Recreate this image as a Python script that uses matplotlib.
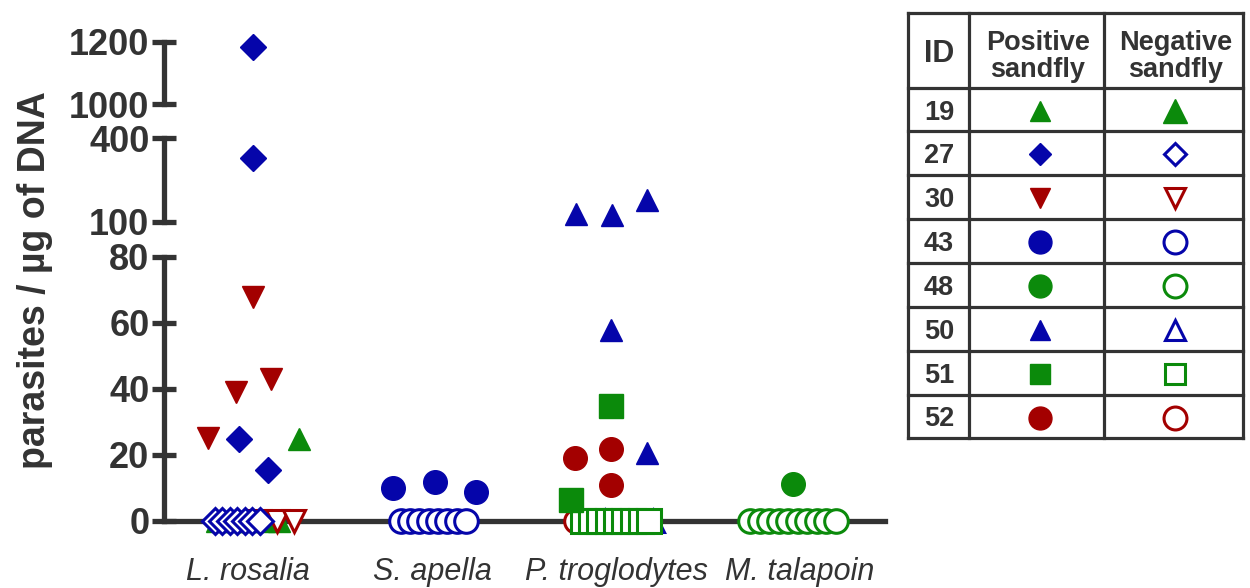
import matplotlib
matplotlib.use('Agg')
import matplotlib.pyplot as plt
import numpy as np

plt.rcParams['font.family'] = ['Liberation Sans', 'DejaVu Sans']

# ---------------- data ----------------
categories = ['L. rosalia', 'S. apella', 'P. troglodytes', 'M. talapoin']
ids = ['19', '27', '30', '43', '48', '50', '51', '52']

# Positive-sandfly results (category index, parasites / ug DNA)
pos19_cat = [0];              pos19_val = [24.7]
pos27_cat = [0, 0, 0, 0];     pos27_val = [1184, 330, 24.7, 15.5]
pos30_cat = [0, 0, 0, 0];     pos30_val = [67.9, 39.1, 42.9, 25.2]
pos43_cat = [1, 1, 1];        pos43_val = [9.9, 11.7, 8.7]
pos48_cat = [3];              pos48_val = [11.0]
pos50_cat = [2, 2, 2, 2, 2];  pos50_val = [128.6, 125.0, 178.6, 57.8, 20.6]
pos51_cat = [2, 2];           pos51_val = [34.8, 6.3]
pos52_cat = [2, 2, 2];        pos52_val = [19.0, 21.7, 10.8]

# Negative-sandfly results: number of zero values per category
neg19_zero = [5, 0, 0, 0]
neg27_zero = [7, 0, 0, 0]
neg30_zero = [3, 0, 0, 0]
neg43_zero = [0, 8, 0, 0]
neg48_zero = [0, 0, 0, 10]
neg50_zero = [0, 0, 2, 0]
neg51_zero = [0, 0, 9, 0]
neg52_zero = [0, 0, 3, 0]

# y-axis segments (broken axis) and their ticks
seg_low = (0, 80);      ticks_low = [0, 20, 40, 60, 80]
seg_mid = (100, 400);   ticks_mid = [100, 400]
seg_top = (1000, 1200); ticks_top = [1000, 1200]

# ---------------- layout / style (not data) ----------------
BLUE = '#0505aa'
GREEN = '#0b8a0b'
RED = '#a30000'
DARK = '#333333'

pos_jitter = {
    '19': [0.277],
    '27': [0.027, 0.027, -0.049, 0.109],
    '30': [0.027, -0.065, 0.125, -0.217],
    '43': [-0.212, 0.016, 0.239],
    '48': [-0.038],
    '50': [-0.217, -0.022, 0.168, -0.027, 0.168],
    '51': [-0.027, -0.245],
    '52': [-0.222, -0.027, -0.027],
}
zero_spread = {
    '19': (-0.17, 0.17), '27': (-0.18, 0.065), '30': (0.06, 0.25),
    '43': (-0.17, 0.185), '48': (-0.272, 0.196), '50': (-0.06, 0.2),
    '51': (-0.18, 0.18), '52': (-0.217, -0.13),
}
style = {
    '19': dict(marker='^', color=GREEN, ms=16.5, ms_leg=14.5, neg_filled=True),
    '27': dict(marker='D', color=BLUE, ms=13.0, ms_leg=11.5, neg_filled=False),
    '30': dict(marker='v', color=RED, ms=16.5, ms_leg=14.5, neg_filled=False),
    '43': dict(marker='o', color=BLUE, ms=17, ms_leg=16.5, neg_filled=False),
    '48': dict(marker='o', color=GREEN, ms=17, ms_leg=16.5, neg_filled=False),
    '50': dict(marker='^', color=BLUE, ms=16.5, ms_leg=14.5, neg_filled=False),
    '51': dict(marker='s', color=GREEN, ms=17, ms_leg=15, neg_filled=False),
    '52': dict(marker='o', color=RED, ms=17, ms_leg=16.5, neg_filled=False),
}
pos_data = {
    '19': (pos19_cat, pos19_val), '27': (pos27_cat, pos27_val),
    '30': (pos30_cat, pos30_val), '43': (pos43_cat, pos43_val),
    '48': (pos48_cat, pos48_val), '50': (pos50_cat, pos50_val),
    '51': (pos51_cat, pos51_val), '52': (pos52_cat, pos52_val),
}
neg_data = {
    '19': neg19_zero, '27': neg27_zero, '30': neg30_zero, '43': neg43_zero,
    '48': neg48_zero, '50': neg50_zero, '51': neg51_zero, '52': neg52_zero,
}

W, H = 1250, 588
fig = plt.figure(figsize=(W / 100, H / 100), dpi=100)
fig.patch.set_facecolor('white')

x_left_px, x_right_px = 164, 885
cat0_px, cat_step_px = 248, 184
xlim = (-(cat0_px - x_left_px) / cat_step_px,
        3 + (x_right_px - (cat0_px + 3 * cat_step_px)) / cat_step_px)


def add_ax(y_bottom_px, y_top_px):
    return fig.add_axes([x_left_px / W, 1 - y_bottom_px / H,
                         (x_right_px - x_left_px) / W, (y_bottom_px - y_top_px) / H])


ax_low = add_ax(520.7, 256.7)
ax_mid = add_ax(221.7, 138.3)
ax_top = add_ax(104.0, 41.7)
segments = [(ax_low, seg_low, ticks_low, (-50, 90)),
            (ax_mid, seg_mid, ticks_mid, (90, 500)),
            (ax_top, seg_top, ticks_top, (500, 5000))]

LW = 3.8
for ax, lims, ticks, _ in segments:
    ax.set_xlim(*xlim)
    ax.set_ylim(*lims)
    ax.patch.set_alpha(0)
    for s in ['top', 'right', 'bottom']:
        ax.spines[s].set_visible(False)
    ax.spines['left'].set_linewidth(LW)
    ax.spines['left'].set_color(DARK)
    ax.set_yticks(ticks)
    ax.set_yticklabels([str(t) for t in ticks])
    ax.tick_params(axis='y', direction='inout', length=17, width=LW,
                   color=DARK, labelcolor=DARK, labelsize=26, pad=2)
    for lb in ax.get_yticklabels():
        lb.set_fontweight('bold')
    ax.set_xticks([])

ax_low.spines['bottom'].set_visible(True)
ax_low.spines['bottom'].set_linewidth(LW)
ax_low.spines['bottom'].set_color(DARK)
ax_low.set_xticks(range(len(categories)))
ax_low.set_xticklabels(categories, fontstyle='italic', fontsize=22, color=DARK)
ax_low.tick_params(axis='x', length=0, pad=26)


def draw(xs, ys, st, filled, z):
    xs = np.asarray(xs, float)
    ys = np.asarray(ys, float)
    for ax, _, _, (lo, hi) in segments:
        m = (ys >= lo) & (ys < hi)
        if not m.any():
            continue
        ax.plot(xs[m], ys[m], linestyle='none', marker=st['marker'],
                markersize=st['ms'],
                markerfacecolor=st['color'] if filled else 'white',
                markeredgecolor=st['color'],
                markeredgewidth=1 if filled else 2.2,
                clip_on=False, zorder=z)


# zero (negative sandfly) values, drawn in layered order
neg_order = ['19', '30', '27', '43', '52', '50', '51', '48']
for k, key in enumerate(neg_order):
    counts = neg_data[key]
    lo, hi = zero_spread[key]
    xs, ys = [], []
    for ci, n in enumerate(counts):
        if n <= 0:
            continue
        offs = np.linspace(lo, hi, n) if n > 1 else np.array([(lo + hi) / 2])
        xs.extend(ci + offs)
        ys.extend([0.0] * n)
    draw(xs, ys, style[key], style[key]['neg_filled'], 5 + k * 0.1)

# positive values
for key in ids:
    cats, vals = pos_data[key]
    xs = np.asarray(cats, float) + np.asarray(pos_jitter[key])
    draw(xs, vals, style[key], True, 8)

# y label
fig.text(35 / W, 1 - 280 / H, 'parasites / µg of DNA', rotation=90,
         ha='center', va='center', fontsize=27, fontweight='bold', color=DARK)

# ---------------- legend table ----------------
tab = fig.add_axes([0, 0, 1, 1], zorder=-1)
tab.set_xlim(0, W)
tab.set_ylim(H, 0)
tab.axis('off')
h_lines = [12.7, 88, 131, 175, 219, 263, 307, 351, 395, 438]
v_lines = [908, 969, 1104, 1243]
for y in h_lines:
    tab.plot([v_lines[0], v_lines[-1]], [y, y], color=DARK, lw=2.3,
             solid_capstyle='projecting')
for x in v_lines:
    tab.plot([x, x], [h_lines[0], h_lines[-1]], color=DARK, lw=2.3,
             solid_capstyle='projecting')

col_id, col_pos, col_neg = 939, 1040, 1175
hdr_y = (h_lines[0] + h_lines[1]) / 2
tab.text(col_id, hdr_y + 4, 'ID', ha='center', va='center', fontsize=22,
         fontweight='bold', color=DARK)
tab.text(1038, hdr_y + 6, 'Positive\nsandfly', ha='center', va='center',
         fontsize=19.5, fontweight='bold', color=DARK, linespacing=1.05)
tab.text(1176, hdr_y + 6, 'Negative\nsandfly', ha='center', va='center',
         fontsize=19.5, fontweight='bold', color=DARK, linespacing=1.05)
for i, key in enumerate(ids):
    yc = (h_lines[i + 1] + h_lines[i + 2]) / 2 + 1
    tab.text(col_id, yc + 2, key, ha='center', va='center', fontsize=19.5,
             fontweight='bold', color=DARK)
    st = style[key]
    tab.plot([col_pos], [yc], linestyle='none', marker=st['marker'],
             markersize=st['ms_leg'], markerfacecolor=st['color'],
             markeredgecolor=st['color'], markeredgewidth=1)
    nf = st['neg_filled']
    tab.plot([col_neg], [yc], linestyle='none', marker=st['marker'],
             markersize=st['ms_leg'] + (2.5 if nf else 0),
             markerfacecolor=st['color'] if nf else 'white',
             markeredgecolor=st['color'], markeredgewidth=1 if nf else 2.2)

fig.savefig('out.png', dpi=100, facecolor='white')
